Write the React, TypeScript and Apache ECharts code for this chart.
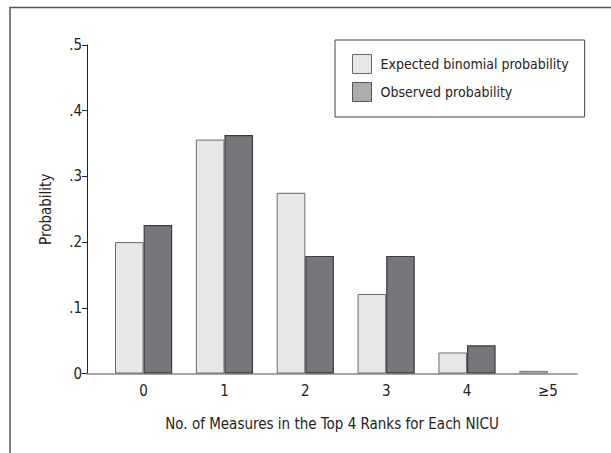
import React, { useEffect, useRef } from "react";
import * as echarts from "echarts";

const categories = ["0", "1", "2", "3", "4", "\u22655"];
const expected = [0.2, 0.356, 0.275, 0.121, 0.032, 0.004];
const observed = [0.226, 0.363, 0.179, 0.179, 0.043, null];
const yTicks = [0, 0.1, 0.2, 0.3, 0.4, 0.5];
const seriesNames = ["Expected binomial probability", "Observed probability"];

const FONT = "'Liberation Sans Narrow', 'DejaVu Sans Condensed', 'Liberation Sans', sans-serif";

export default function App() {
  const ref = useRef<HTMLDivElement>(null);
  useEffect(() => {
    if (!ref.current) return;
    const chart = echarts.init(ref.current, null, { renderer: "svg" });
    const toPairs = (arr: (number | null)[]) =>
      arr.map((v, i) => [i, v === null ? "-" : v]);
    chart.setOption({
      animation: false,
      backgroundColor: "#ffffff",
      textStyle: { fontFamily: FONT },
      graphic: [
        {
          type: "polyline",
          shape: { points: [[10, 453], [10, 7.5], [611, 7.5]] },
          style: { stroke: "#555", lineWidth: 1.5, fill: "none" },
          silent: true,
        },
      ],
      grid: { left: 87, right: 34, top: 45, bottom: 79.5, containLabel: false },
      legend: {
        orient: "vertical",
        left: 335,
        top: 40,
        padding: [14, 16, 15, 17],
        itemWidth: 19,
        itemHeight: 19,
        itemGap: 8,
        backgroundColor: "#fff",
        borderColor: "#444",
        borderWidth: 1,
        icon: "rect",
        textStyle: { fontFamily: FONT, fontSize: 14, color: "#222", padding: [0, 0, 0, 4] },
        data: [
          { name: seriesNames[0], itemStyle: { color: "#e6e7e8", borderColor: "#666", borderWidth: 1 } },
          { name: seriesNames[1], itemStyle: { color: "#acacac", borderColor: "#555", borderWidth: 1 } },
        ],
      },
      xAxis: {
        type: "value",
        min: -0.7,
        max: 5.36,
        name: "No. of Measures in the Top 4 Ranks for Each NICU",
        nameLocation: "middle",
        nameGap: 43,
        nameTextStyle: { fontFamily: FONT, fontSize: 15, color: "#222" },
        splitLine: { show: false },
        axisTick: { show: false },
        axisLine: { show: true, onZero: false, lineStyle: { color: "#888", width: 1.5 } },
        axisLabel: {
          customValues: [0, 1, 2, 3, 4, 5],
          formatter: (v: number) => categories[Math.round(v)] ?? "",
          fontFamily: FONT,
          fontSize: 15,
          color: "#222",
          margin: 10,
        },
      },
      yAxis: {
        type: "value",
        min: 0,
        max: 0.5,
        interval: 0.1,
        name: "Probability",
        nameLocation: "middle",
        nameGap: 34,
        nameTextStyle: { fontFamily: FONT, fontSize: 15, color: "#222" },
        splitLine: { show: false },
        axisLine: { show: true, onZero: false, lineStyle: { color: "#222", width: 1 } },
        axisTick: { show: true, length: 5, lineStyle: { color: "#222" } },
        axisLabel: {
          fontFamily: FONT,
          fontSize: 15,
          color: "#222",
          margin: 5,
          customValues: yTicks,
          formatter: (v: number) => (v === 0 ? "0" : "." + Math.round(v * 10)),
        },
      },
      series: [
        {
          name: seriesNames[0],
          type: "bar",
          data: toPairs(expected),
          barWidth: 28.6,
          barGap: "0%",
          itemStyle: { color: "#e6e7e8", borderColor: "#6a6a6a", borderWidth: 1 },
        },
        {
          name: seriesNames[1],
          type: "bar",
          data: toPairs(observed),
          barWidth: 28.6,
          barGap: "0%",
          itemStyle: { color: "#76777b", borderColor: "#3c3c3c", borderWidth: 1.2 },
        },
      ],
    });
    return () => chart.dispose();
  }, []);
  return (
    <div
      ref={ref}
      style={{ position: "fixed", left: 0, top: 0, width: 611, height: 453 }}
    />
  );
}
